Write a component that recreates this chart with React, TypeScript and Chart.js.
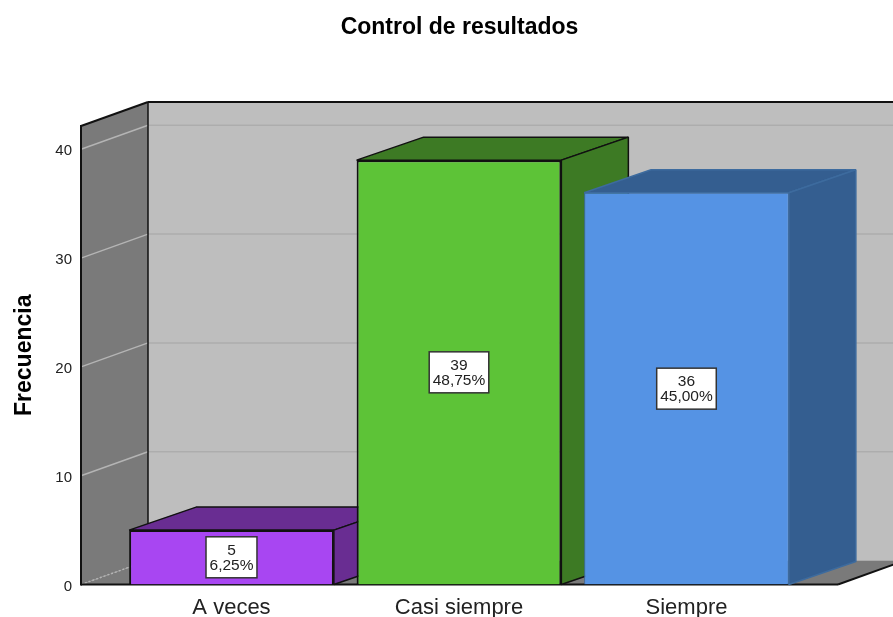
import React, { useEffect, useRef } from "react";
import { Chart, registerables } from "chart.js";

Chart.register(...registerables);

const chartTitle = "Control de resultados";
const yAxisTitle = "Frecuencia";
const categories = ["A veces", "Casi siempre", "Siempre"];
const frequencies = [5, 39, 36];
const percentLabels = ["6,25%", "48,75%", "45,00%"];
const yTicks = [0, 10, 20, 30, 40];

const frontColors = ["#a846f2", "#5dc337", "#5593e4"];
const shadeColors = ["#692d92", "#3d7a24", "#345e90"];
const edgeColors = ["#111111", "#111111", "#3d6b9e"];

const FONT = "'Liberation Sans', Arial, sans-serif";
const WALL_DX = 67;
const WALL_DY = 24;
const BAR_DX = 67;
const BAR_DY = 23;

function poly(ctx: CanvasRenderingContext2D, pts: number[][], fill?: string, stroke?: string, lw = 1) {
  ctx.beginPath();
  pts.forEach((p, i) => (i ? ctx.lineTo(p[0], p[1]) : ctx.moveTo(p[0], p[1])));
  ctx.closePath();
  if (fill) {
    ctx.fillStyle = fill;
    ctx.fill();
  }
  if (stroke) {
    ctx.strokeStyle = stroke;
    ctx.lineWidth = lw;
    ctx.lineJoin = "bevel";
    ctx.stroke();
  }
}

function line(ctx: CanvasRenderingContext2D, x0: number, y0: number, x1: number, y1: number, color: string, lw: number) {
  ctx.beginPath();
  ctx.moveTo(x0, y0);
  ctx.lineTo(x1, y1);
  ctx.strokeStyle = color;
  ctx.lineWidth = lw;
  ctx.stroke();
}

const box3d = {
  id: "box3d",
  beforeDatasetsDraw(chart: any) {
    const { ctx, chartArea: a, scales } = chart;
    const y = scales.y;
    ctx.save();
    // back wall
    poly(ctx, [[a.left + WALL_DX, a.top - WALL_DY], [a.right + WALL_DX, a.top - WALL_DY], [a.right + WALL_DX, a.bottom - WALL_DY], [a.left + WALL_DX, a.bottom - WALL_DY]], "#bebebe");
    // left wall
    poly(ctx, [[a.left, a.top], [a.left + WALL_DX, a.top - WALL_DY], [a.left + WALL_DX, a.bottom - WALL_DY], [a.left, a.bottom]], "#7a7a7a");
    // floor
    poly(ctx, [[a.left, a.bottom], [a.left + WALL_DX, a.bottom - WALL_DY], [a.right + WALL_DX, a.bottom - WALL_DY], [a.right, a.bottom]], "#7a7a7a");
    // grid lines
    yTicks.forEach((t) => {
      const p = y.getPixelForValue(t);
      if (t > 0) {
        line(ctx, a.left + WALL_DX, p - WALL_DY, a.right + WALL_DX, p - WALL_DY, "#adadad", 1.5);
      }
      ctx.save();
      if (t === 0) ctx.setLineDash([2, 2]);
      line(ctx, a.left, p, a.left + WALL_DX, p - WALL_DY, "#b4b4b4", 1.5);
      ctx.restore();
    });
    // frame edges
    line(ctx, a.left + WALL_DX, a.top - WALL_DY, a.left + WALL_DX, a.bottom - WALL_DY, "#111111", 1.5);
    line(ctx, a.left + WALL_DX, a.top - WALL_DY, a.right + WALL_DX, a.top - WALL_DY, "#111111", 2);
    line(ctx, a.left, a.top, a.left + WALL_DX, a.top - WALL_DY, "#111111", 2);
    line(ctx, a.left, a.top - 1, a.left, a.bottom + 1, "#111111", 2);
    line(ctx, a.left, a.bottom, a.right, a.bottom, "#111111", 2);
    line(ctx, a.right, a.bottom, a.right + WALL_DX, a.bottom - WALL_DY, "#111111", 2);

    // bar sides and tops, left to right (fronts are drawn by Chart.js afterwards)
    const meta = chart.getDatasetMeta(0);
    meta.data.forEach((el: any, i: number) => {
      const l = el.x - el.width / 2;
      const r = el.x + el.width / 2;
      const t = el.y;
      const b = el.base;
      const edge = edgeColors[i];
      poly(ctx, [[l, t], [l + BAR_DX, t - BAR_DY], [r + BAR_DX, t - BAR_DY], [r, t]], shadeColors[i], edge, 1.5);
      poly(ctx, [[r, t], [r + BAR_DX, t - BAR_DY], [r + BAR_DX, b - BAR_DY], [r, b]], shadeColors[i], edge, 1.5);
    });
    ctx.restore();
  },
  afterDatasetsDraw(chart: any) {
    const { ctx } = chart;
    const meta = chart.getDatasetMeta(0);
    ctx.save();
    ctx.font = `15.5px ${FONT}`;
    ctx.textAlign = "center";
    ctx.textBaseline = "middle";
    meta.data.forEach((el: any, i: number) => {
      const cx = el.x;
      const cy = (el.y + el.base) / 2;
      const pct = percentLabels[i];
      const w = ctx.measureText(pct).width + 7;
      const h = 41;
      ctx.fillStyle = "#ffffff";
      ctx.fillRect(cx - w / 2, cy - h / 2, w, h);
      ctx.strokeStyle = "#333333";
      ctx.lineWidth = 1.5;
      ctx.strokeRect(cx - w / 2, cy - h / 2, w, h);
      ctx.fillStyle = "#222222";
      ctx.fillText(String(frequencies[i]), cx, cy - 7);
      ctx.fillText(pct, cx, cy + 8);
    });
    ctx.restore();
  },
};

export default function App() {
  const ref = useRef<HTMLCanvasElement>(null);

  useEffect(() => {
    const chart = new Chart(ref.current as HTMLCanvasElement, {
      type: "bar",
      data: {
        datasets: [
          {
            data: frequencies.map((v, i) => ({ x: i, y: v })),
            backgroundColor: frontColors,
            borderColor: edgeColors,
            borderWidth: [2, 2, 1],
            barPercentage: 0.9,
            categoryPercentage: 1,
          },
        ],
      } as any,
      options: {
        responsive: false,
        animation: false,
        layout: { padding: { right: 55, left: 0, top: 0, bottom: 0 } },
        plugins: {
          legend: { display: false },
          tooltip: { enabled: false },
          title: {
            display: true,
            text: chartTitle,
            fullSize: false,
            color: "#000000",
            font: { family: FONT, size: 23, weight: "bold" },
            padding: { top: 14, bottom: 84.4 },
          },
        },
        scales: {
          x: {
            type: "linear",
            offset: false,
            min: -0.6615,
            max: 2.666,
            grid: { display: false, drawTicks: false, offset: false },
            border: { display: false },
            afterBuildTicks: (s: any) => {
              s.ticks = categories.map((_, i) => ({ value: i }));
            },
            afterFit: (s: any) => {
              s.height = 32.5;
            },
            ticks: {
              autoSkip: false,
              maxRotation: 0,
              padding: 10.5,
              color: "#222222",
              font: { family: FONT, size: 22 },
              callback: (v: any) => categories[v],
            },
          },
          y: {
            min: 0,
            max: 42.14,
            grid: { display: false, drawTicks: false },
            border: { display: false },
            afterBuildTicks: (s: any) => {
              s.ticks = yTicks.map((value) => ({ value }));
            },
            afterFit: (s: any) => {
              s.width = 81;
            },
            title: {
              display: true,
              text: yAxisTitle,
              color: "#000000",
              font: { family: FONT, size: 23, weight: "bold" },
              padding: { top: 11, bottom: 0 },
            },
            ticks: {
              padding: 9,
              labelOffset: 2,
              color: "#222222",
              font: { family: FONT, size: 15 },
            },
          },
        },
      } as any,
      plugins: [box3d],
    });
    return () => chart.destroy();
  }, []);

  return (
    <div style={{ position: "absolute", left: 0, top: 0 }}>
      <canvas ref={ref} width={893} height={617} style={{ display: "block" }} />
    </div>
  );
}
